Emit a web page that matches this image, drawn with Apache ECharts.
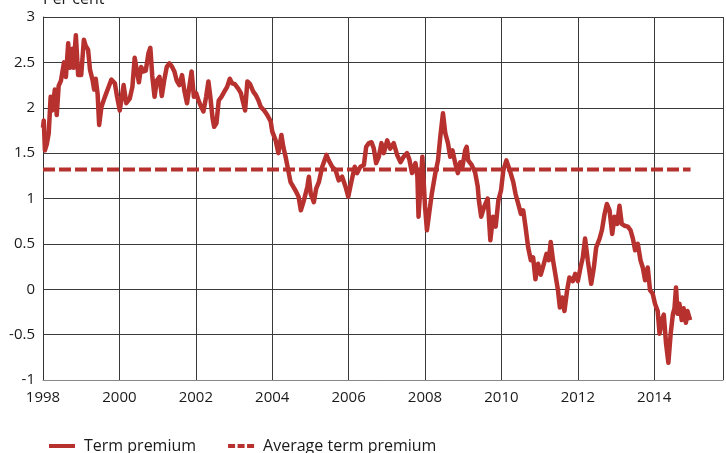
<!DOCTYPE html>
<html>
<head>
<meta charset="utf-8">
<script src="https://cdn.jsdelivr.net/npm/echarts@6/dist/echarts.min.js"></script>
<style>
  html, body { margin: 0; padding: 0; background: #fff; }
  #chart { width: 726px; height: 453px; }
</style>
</head>
<body>
<div id="chart"></div>
<script>
// term premium (year, per cent)
var termYears = [
  1998.00, 1998.02, 1998.05, 1998.10, 1998.15, 1998.20, 1998.24, 1998.31, 1998.36, 1998.41,
  1998.47, 1998.55, 1998.60, 1998.66, 1998.70, 1998.77, 1998.80, 1998.86, 1998.92, 1999.00,
  1999.07, 1999.12, 1999.18, 1999.23, 1999.30, 1999.34, 1999.38, 1999.43, 1999.47, 1999.53,
  1999.62, 1999.70, 1999.79, 1999.88, 1999.94, 2000.01, 2000.11, 2000.18, 2000.27, 2000.34,
  2000.40, 2000.46, 2000.51, 2000.57, 2000.63, 2000.69, 2000.76, 2000.81, 2000.86, 2000.92,
  2000.98, 2001.05, 2001.11, 2001.18, 2001.24, 2001.31, 2001.38, 2001.44, 2001.50, 2001.57,
  2001.64, 2001.70, 2001.77, 2001.83, 2001.89, 2001.95, 2002.01, 2002.07, 2002.14, 2002.20,
  2002.27, 2002.33, 2002.38, 2002.44, 2002.48, 2002.54, 2002.60, 2002.67, 2002.75, 2002.82,
  2002.89, 2002.95, 2003.02, 2003.11, 2003.18, 2003.29, 2003.35, 2003.42, 2003.50, 2003.57,
  2003.64, 2003.70, 2003.79, 2003.87, 2003.96, 2004.00, 2004.09, 2004.16, 2004.24, 2004.29,
  2004.35, 2004.42, 2004.48, 2004.55, 2004.62, 2004.69, 2004.75, 2004.83, 2004.92, 2004.96,
  2005.01, 2005.09, 2005.15, 2005.22, 2005.27, 2005.31, 2005.42, 2005.48, 2005.57, 2005.66,
  2005.74, 2005.83, 2005.92, 2005.99, 2006.08, 2006.16, 2006.22, 2006.31, 2006.40, 2006.46,
  2006.53, 2006.60, 2006.66, 2006.72, 2006.79, 2006.86, 2006.92, 2007.01, 2007.09, 2007.18,
  2007.27, 2007.36, 2007.44, 2007.53, 2007.59, 2007.66, 2007.75, 2007.80, 2007.83, 2007.88,
  2007.93, 2008.00, 2008.05, 2008.11, 2008.18, 2008.27, 2008.34, 2008.40, 2008.47, 2008.53,
  2008.60, 2008.66, 2008.72, 2008.79, 2008.86, 2008.92, 2008.98, 2009.05, 2009.09, 2009.13,
  2009.22, 2009.31, 2009.38, 2009.41, 2009.47, 2009.55, 2009.64, 2009.71, 2009.78, 2009.85,
  2009.92, 2009.99, 2010.05, 2010.13, 2010.22, 2010.31, 2010.37, 2010.44, 2010.51, 2010.57,
  2010.63, 2010.70, 2010.77, 2010.83, 2010.89, 2010.96, 2011.03, 2011.09, 2011.18, 2011.24,
  2011.29, 2011.35, 2011.41, 2011.48, 2011.53, 2011.59, 2011.65, 2011.72, 2011.78, 2011.87,
  2011.93, 2012.00, 2012.07, 2012.13, 2012.19, 2012.26, 2012.35, 2012.42, 2012.48, 2012.57,
  2012.63, 2012.70, 2012.76, 2012.83, 2012.90, 2012.96, 2013.03, 2013.09, 2013.15, 2013.22,
  2013.31, 2013.38, 2013.44, 2013.50, 2013.57, 2013.64, 2013.70, 2013.76, 2013.83, 2013.89,
  2013.96, 2014.02, 2014.09, 2014.14, 2014.20, 2014.25, 2014.31, 2014.37, 2014.43, 2014.49,
  2014.53, 2014.57, 2014.61, 2014.66, 2014.72, 2014.77, 2014.83, 2014.87, 2014.94
];
var termValues = [
  1.78, 1.86, 1.53, 1.60, 1.72, 2.12, 1.97, 2.20, 1.92, 2.24,
  2.30, 2.50, 2.34, 2.71, 2.44, 2.65, 2.44, 2.80, 2.36, 2.36,
  2.75, 2.68, 2.64, 2.42, 2.30, 2.20, 2.32, 2.15, 1.81, 2.01,
  2.12, 2.21, 2.31, 2.27, 2.12, 1.97, 2.25, 2.05, 2.10, 2.23,
  2.55, 2.40, 2.28, 2.45, 2.40, 2.41, 2.60, 2.66, 2.35, 2.12,
  2.30, 2.34, 2.13, 2.32, 2.45, 2.49, 2.45, 2.40, 2.30, 2.25,
  2.36, 2.19, 2.05, 2.23, 2.40, 2.12, 2.16, 2.08, 2.01, 1.96,
  2.12, 2.29, 2.12, 1.88, 1.79, 1.83, 2.08, 2.12, 2.18, 2.23,
  2.32, 2.27, 2.26, 2.21, 2.16, 1.97, 2.29, 2.26, 2.18, 2.14,
  2.08, 2.01, 1.97, 1.92, 1.85, 1.74, 1.64, 1.50, 1.70, 1.57,
  1.46, 1.31, 1.18, 1.13, 1.08, 1.02, 0.87, 0.98, 1.13, 1.24,
  1.05, 0.96, 1.11, 1.18, 1.16, 1.35, 1.48, 1.42, 1.35, 1.31,
  1.20, 1.24, 1.13, 1.02, 1.20, 1.35, 1.28, 1.35, 1.37, 1.57,
  1.61, 1.62, 1.55, 1.39, 1.46, 1.61, 1.50, 1.64, 1.55, 1.61,
  1.48, 1.40, 1.46, 1.50, 1.43, 1.28, 1.39, 1.24, 0.80, 1.13,
  1.46, 0.91, 0.65, 0.84, 1.06, 1.28, 1.42, 1.68, 1.94, 1.72,
  1.61, 1.46, 1.53, 1.39, 1.28, 1.40, 1.35, 1.53, 1.57, 1.42,
  1.37, 1.29, 1.13, 0.98, 0.80, 0.91, 1.00, 0.54, 0.80, 0.69,
  0.98, 1.09, 1.31, 1.42, 1.31, 1.18, 1.05, 0.94, 0.83, 0.87,
  0.69, 0.46, 0.32, 0.35, 0.11, 0.28, 0.16, 0.25, 0.39, 0.32,
  0.52, 0.32, 0.17, -0.01, -0.20, -0.09, -0.24, -0.01, 0.13, 0.09,
  0.17, 0.09, 0.24, 0.35, 0.56, 0.32, 0.06, 0.24, 0.46, 0.56,
  0.65, 0.83, 0.94, 0.87, 0.61, 0.80, 0.72, 0.92, 0.72, 0.70,
  0.69, 0.65, 0.56, 0.43, 0.50, 0.32, 0.24, 0.10, 0.24, -0.01,
  -0.05, -0.16, -0.24, -0.49, -0.34, -0.28, -0.60, -0.81, -0.49, -0.27,
  -0.21, 0.02, -0.27, -0.16, -0.34, -0.21, -0.37, -0.24, -0.34
];
// average over the whole sample
var avgValue = 1.32;
var avgYears = [1998, 2014.95];

var xTicks = [1998, 2000, 2002, 2004, 2006, 2008, 2010, 2012, 2014];
var yTicks = [-1, -0.5, 0, 0.5, 1, 1.5, 2, 2.5, 3];

var RED = '#b7312f';
var FONT = '"Open Sans", "DejaVu Sans", sans-serif';

var termData = termYears.map(function (y, i) { return [y, termValues[i]]; });
var avgData = avgYears.map(function (y) { return [y, avgValue]; });

var myChart = echarts.init(document.getElementById('chart'), null, { renderer: 'canvas' });

var option = {
  animation: false,
  grid: { left: 43, right: 0, top: 17, bottom: 73 },
  graphic: [{
    type: 'text',
    left: 43,
    top: -9,
    style: { text: 'Per cent', font: '16px ' + FONT, fill: '#1a1a1a' }
  }],
  legend: {
    left: 44,
    top: 433,
    itemWidth: 26,
    itemHeight: 4,
    itemGap: 32,
    textStyle: { fontFamily: FONT, fontSize: 16, color: '#1a1a1a', padding: [0, 0, 0, 4] },
    data: [
      { name: 'Term premium', icon: 'path://M0,0h26v4h-26z' },
      { name: 'Average term premium', icon: 'path://M0,0h7v4h-7zM9.5,0h7v4h-7zM19,0h7v4h-7z' }
    ]
  },
  xAxis: {
    type: 'value',
    min: xTicks[0],
    max: 2015.8,
    interval: 2,
    axisLine: { show: true, onZero: false, lineStyle: { color: '#888', width: 1 } },
    axisTick: { show: false },
    axisLabel: {
      fontFamily: FONT, fontSize: 15, color: '#1a1a1a', margin: 10,
      formatter: function (v) { return xTicks.indexOf(v) >= 0 ? String(v) : ''; }
    },
    splitLine: { show: true, lineStyle: { color: '#3a3a3a', width: 1 } }
  },
  yAxis: {
    type: 'value',
    min: yTicks[0],
    max: yTicks[yTicks.length - 1],
    interval: 0.5,
    axisLine: { show: true, lineStyle: { color: '#333', width: 1 } },
    axisTick: { show: false },
    axisLabel: {
      fontFamily: FONT, fontSize: 15, color: '#1a1a1a', margin: 8,
      formatter: function (v) { return String(v); }
    },
    splitLine: { show: true, lineStyle: { color: '#3a3a3a', width: 1 } }
  },
  series: [
    {
      name: 'Term premium',
      type: 'line',
      data: termData,
      symbol: 'none',
      lineStyle: { color: RED, width: 4.5, join: 'round' },
      itemStyle: { color: RED },
      z: 3
    },
    {
      name: 'Average term premium',
      type: 'line',
      data: avgData,
      symbol: 'none',
      lineStyle: { color: RED, width: 4, type: [12, 4] },
      itemStyle: { color: RED },
      z: 2
    }
  ]
};

myChart.setOption(option);
</script>
</body>
</html>
